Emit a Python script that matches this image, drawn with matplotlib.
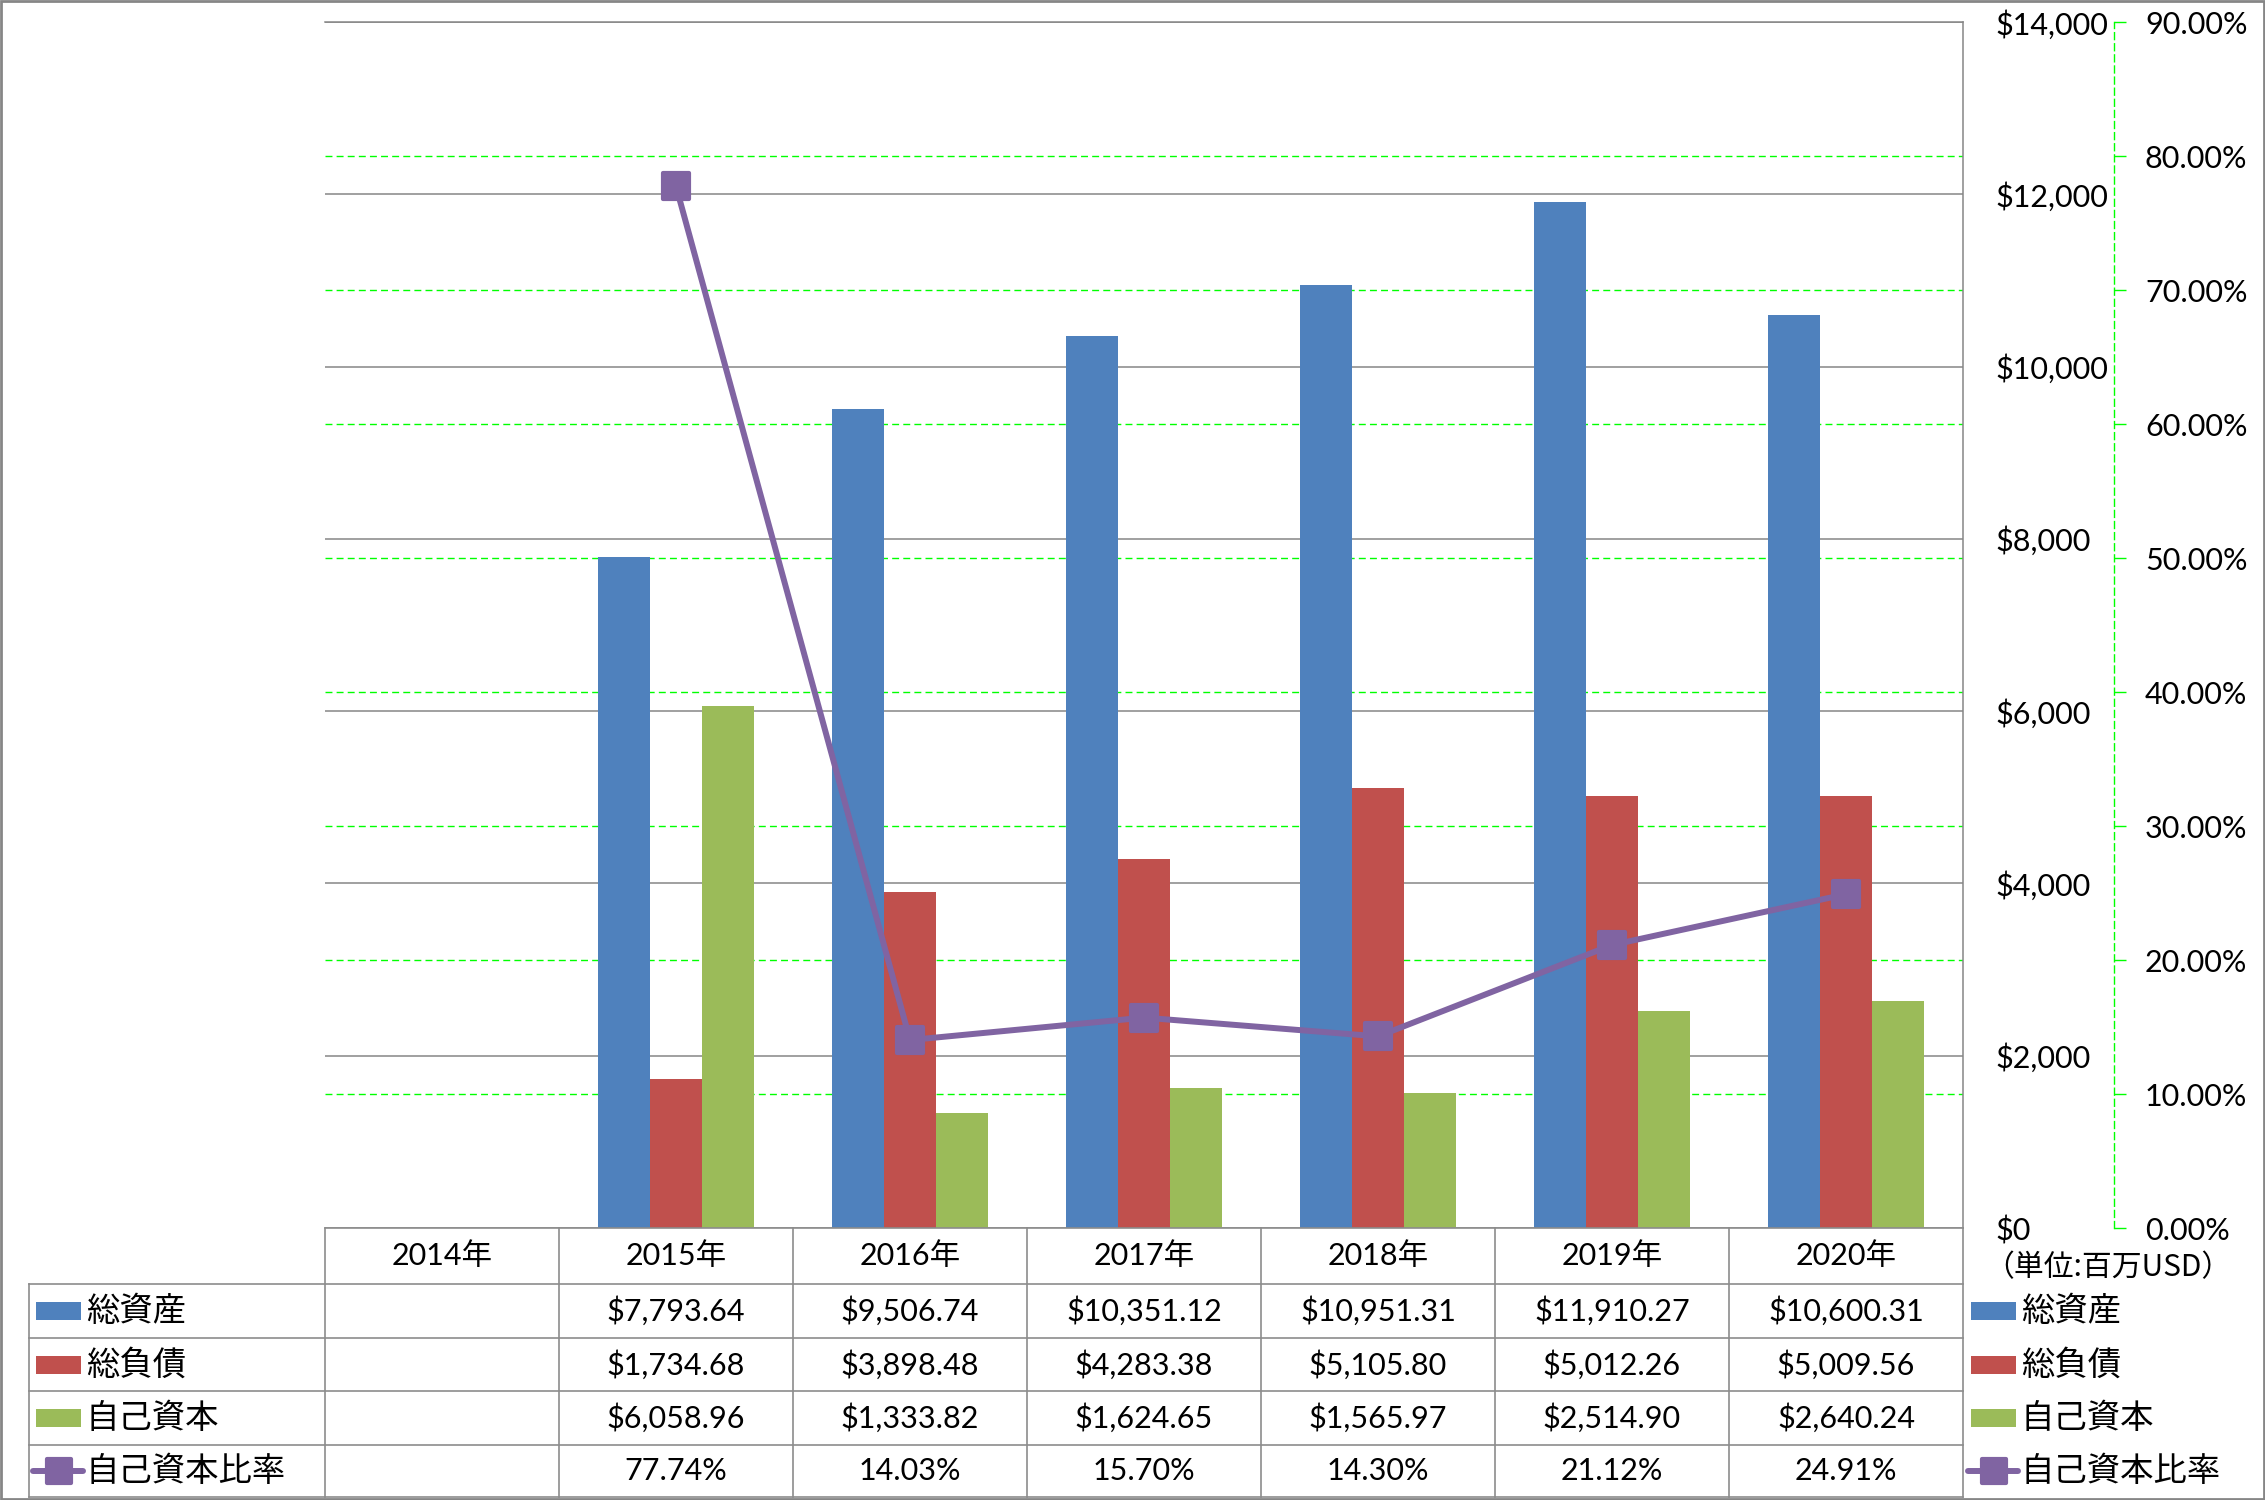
import numpy as np
import matplotlib
matplotlib.use('Agg')
import matplotlib.pyplot as plt
import matplotlib.transforms as mtransforms
from matplotlib.markers import MarkerStyle
from matplotlib.patches import Rectangle

plt.rcParams['font.family'] = ['Lato', 'Noto Sans CJK JP']

# data
years = ['2014年', '2015年', '2016年', '2017年', '2018年', '2019年', '2020年']
assets = [np.nan, 7793.64, 9506.74, 10351.12, 10951.31, 11910.27, 10600.31]
liabilities = [np.nan, 1734.68, 3898.48, 4283.38, 5105.80, 5012.26, 5009.56]
equity = [np.nan, 6058.96, 1333.82, 1624.65, 1565.97, 2514.90, 2640.24]
ratio = [np.nan, 77.74, 14.03, 15.70, 14.30, 21.12, 24.91]
bar_names = ['総資産', '総負債', '自己資本']
line_name = '自己資本比率'
unit_note = '（単位:百万USD）'
money_ticks = np.arange(0, 14001, 2000)
pct_ticks = np.arange(0, 91, 10)

colors = ['#4F81BD', '#C0504D', '#9BBB59']
purple = '#8064A2'
gray = '#8C8C8C'
green = '#00FF00'

W, H = 2265, 1500
fig = plt.figure(figsize=(W / 100, H / 100), dpi=100, facecolor='white')
L, R, T, B = 325, 1963, 22, 1228
ax = fig.add_axes([L / W, 1 - B / H, (R - L) / W, (B - T) / H])
ax2 = ax.twinx()
ax3 = ax.twinx()
ax2.set_zorder(1)
ax.set_zorder(2)
ax3.set_zorder(3)
ax.patch.set_visible(False)

x = np.arange(len(years))
w = 0.222
series = [assets, liabilities, equity]
for k, vals in enumerate(series):
    ax.bar(x + (k - 1) * w, vals, width=w, color=colors[k], zorder=2)

ax.set_xlim(-0.5, len(years) - 0.5)
ax.set_ylim(0, 14000)
ax.set_yticks(money_ticks)
ax.set_yticklabels(['${:,.0f}'.format(v) for v in money_ticks])
ax.yaxis.tick_right()
ax.tick_params(axis='y', length=0, pad=23, labelsize=22)
ax.set_xticks([])
ax.set_axisbelow(True)
ax.yaxis.grid(True, color='#868686', lw=1.1)
for s in ['left', 'bottom']:
    ax.spines[s].set_visible(False)
for s in ['top', 'right']:
    ax.spines[s].set_color('#868686')
    ax.spines[s].set_linewidth(1.1)

# secondary axis (percent)
ax2.set_ylim(0, 90)
ax2.set_yticks(pct_ticks)
ax2.set_yticklabels(['{:.2f}%'.format(v) for v in pct_ticks])
ax2.spines['right'].set_position(('outward', 108.5))
ax2.spines['right'].set_color(green)
ax2.spines['right'].set_linestyle((0, (5, 3)))
ax2.spines['right'].set_linewidth(1)
for s in ['left', 'top', 'bottom']:
    ax2.spines[s].set_visible(False)
ax2.tick_params(axis='y', direction='out', length=8.5, width=1, color=green,
                pad=14, labelsize=22)
ax2.yaxis.grid(True, color=green, lw=1, ls=(0, (5, 3)))
gl = ax2.get_ygridlines()
gl[0].set_visible(False)
gl[-1].set_visible(False)

ax3.set_ylim(0, 90)
ax3.axis('off')
ax3.plot(x, ratio, color=purple, lw=4.3, marker=MarkerStyle('s', joinstyle='round'),
         ms=19, mew=3, mfc=purple, mec=purple, solid_capstyle='round')

# data table under the chart
tab = fig.add_axes([0, 0, 1, 1], zorder=5)
tab.set_xlim(0, W)
tab.set_ylim(H, 0)
tab.axis('off')
tab.set_autoscale_on(False)
blend = mtransforms.blended_transform_factory(ax.transData, tab.transData)

rows_y = [1228, 1284, 1338, 1391, 1445, 1497]
col_edges = np.linspace(L, R, len(years) + 1)
tab.plot([L, R], [rows_y[0]] * 2, color=gray, lw=1.2)
for y in rows_y[1:]:
    tab.plot([29, R], [y, y], color=gray, lw=1.2)
for ce in col_edges:
    tab.plot([ce, ce], [rows_y[0], rows_y[-1]], color=gray, lw=1.2)
tab.plot([29, 29], [rows_y[1], rows_y[-1]], color=gray, lw=1.2)

hdr_y = (rows_y[0] + rows_y[1]) / 2
for i, yr in enumerate(years):
    tab.text(i, hdr_y, yr, transform=blend, ha='center', va='center', fontsize=22)

row_c = [(rows_y[r] + rows_y[r + 1]) / 2 for r in range(1, 5)]
for r, vals in enumerate(series):
    for i, v in enumerate(vals):
        if not np.isnan(v):
            tab.text(i, row_c[r], '${:,.2f}'.format(v), transform=blend,
                     ha='center', va='center', fontsize=22)
for i, v in enumerate(ratio):
    if not np.isnan(v):
        tab.text(i, row_c[3], '{:.2f}%'.format(v), transform=blend,
                 ha='center', va='center', fontsize=22)

# legend keys: in table and to the right
def draw_keys(x0, x1, xt):
    for r in range(3):
        tab.add_patch(Rectangle((x0, row_c[r] - 9), x1 - x0, 18, color=colors[r], lw=0))
        tab.text(xt, row_c[r], bar_names[r], ha='left', va='center', fontsize=24)
    tab.plot([x0 - 3, x1 + 2], [row_c[3]] * 2, color=purple, lw=4.3, solid_capstyle='round')
    tab.plot([(x0 + x1) / 2], [row_c[3]], marker=MarkerStyle('s', joinstyle='round'),
             ms=17, mew=3, color=purple)
    tab.text(xt, row_c[3], line_name, ha='left', va='center', fontsize=24)

draw_keys(36, 81, 86)
draw_keys(1971, 2016, 2021)
tab.text(1984, 1268, unit_note, ha='left', va='center', fontsize=21.5,
         family=['Noto Sans CJK JP'])

tab.add_patch(Rectangle((1, 1), W - 2, H - 2, fill=False, ec='#868686', lw=2))

fig.savefig('out.png', dpi=100, facecolor='white')
